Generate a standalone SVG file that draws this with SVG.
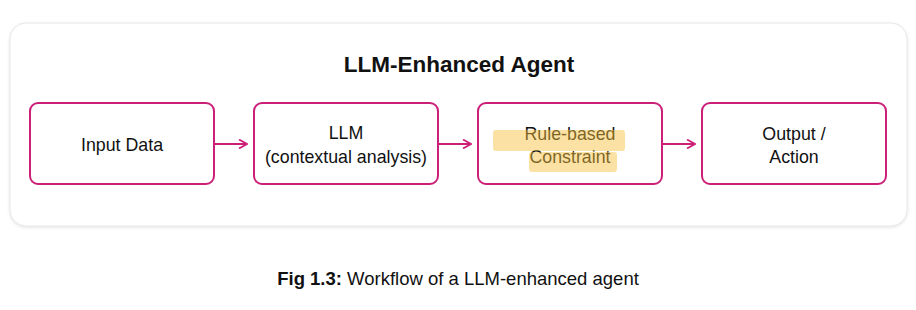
<svg xmlns="http://www.w3.org/2000/svg" width="916" height="310" viewBox="0 0 916 310">
<style>
.node{fill:#fff;stroke:#cc1f78;stroke-width:2}
.t{font-family:"Liberation Sans",Arial,sans-serif;font-size:17.8px;fill:#111;text-anchor:middle}
.conn{stroke:#cc1f78;stroke-width:2;fill:none}
.hl{fill:#f6c23e;opacity:0.47}
</style>
<defs>
<marker id="arr" viewBox="0 0 10 10" refX="9" refY="5" markerWidth="10" markerHeight="10" markerUnits="userSpaceOnUse" orient="auto">
<path d="M1,0.5 L9,5 L1,9.5" fill="none" stroke="#cc1f78" stroke-width="1.8"/>
</marker>
<filter id="sh" x="-5%" y="-10%" width="110%" height="120%">
<feDropShadow dx="0" dy="1" stdDeviation="1.5" flood-color="#000" flood-opacity="0.12"/>
</filter>
</defs>
<rect width="916" height="310" fill="#fff"/>
<rect x="10" y="23" width="897" height="203" rx="16" fill="#fff" stroke="#e6e6e6" stroke-width="1" filter="url(#sh)"/>
<text x="459" y="72" class="t" style="font-size:22.5px;font-weight:bold">LLM-Enhanced Agent</text>
<g id="n1"><rect class="node" x="30" y="103" width="184" height="81" rx="8"/><text class="t" x="122" y="151">Input Data</text></g>
<g id="n2"><rect class="node" x="254" y="103" width="184" height="81" rx="8"/><text class="t" x="346" y="139">LLM</text><text class="t" x="346" y="163">(contextual analysis)</text></g>
<g id="n3"><rect class="node" x="478" y="103" width="184" height="81" rx="8"/><text class="t" x="570" y="140">Rule-based</text><text class="t" x="570" y="163">Constraint</text>
<rect class="hl" x="493" y="130" width="132" height="21" rx="3"/><rect class="hl" x="529" y="152" width="88" height="20" rx="3"/></g>
<g id="n4"><rect class="node" x="702" y="103" width="184" height="81" rx="8"/><text class="t" x="794" y="140">Output /</text><text class="t" x="794" y="163">Action</text></g>
<g id="connectors">
<line class="conn" x1="215" y1="144" x2="247" y2="144" marker-end="url(#arr)"/>
<line class="conn" x1="439" y1="144" x2="471" y2="144" marker-end="url(#arr)"/>
<line class="conn" x1="663" y1="144" x2="695" y2="144" marker-end="url(#arr)"/>
</g>
<text class="t" x="458" y="285" style="font-size:18.5px"><tspan font-weight="bold">Fig 1.3:</tspan> Workflow of a LLM-enhanced agent</text>
</svg>
